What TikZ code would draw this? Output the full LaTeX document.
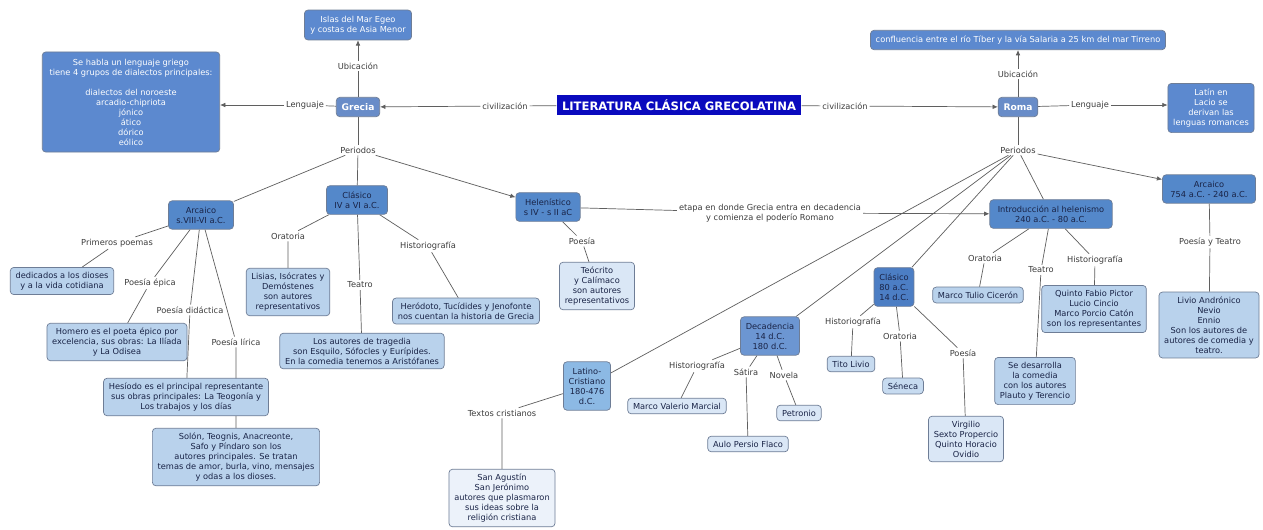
\documentclass[tikz,border=0pt]{standalone}
\usepackage{fontspec}
\setmainfont{DejaVu Sans}
\usetikzlibrary{arrows.meta}

\definecolor{topblue}{RGB}{92,137,207}
\definecolor{mainblue}{RGB}{104,140,200}
\definecolor{titleblue}{RGB}{10,10,190}
\definecolor{periodblue}{RGB}{84,136,202}
\definecolor{perioddark}{RGB}{76,126,196}
\definecolor{decadblue}{RGB}{108,150,210}
\definecolor{latinoblue}{RGB}{140,185,228}
\definecolor{leafblue}{RGB}{185,210,236}
\definecolor{paleblue}{RGB}{218,231,246}
\definecolor{palestblue}{RGB}{236,242,250}
\definecolor{boxline}{RGB}{110,125,150}
\definecolor{darktext}{RGB}{25,35,70}
\definecolor{linktext}{RGB}{60,60,60}
\definecolor{lineg}{RGB}{95,95,95}

\pgfdeclarelayer{paper}
\pgfdeclarelayer{bg}
\pgfsetlayers{paper,bg,main}

\tikzset{
  concept/.style={draw=boxline, rounded corners=2pt, align=center, inner xsep=3pt, inner ysep=2.6pt, font=\fontsize{4.7}{5.7}\selectfont},
  topbox/.style={concept, fill=topblue, text=white},
  mainbox/.style={concept, fill=mainblue, text=white, minimum height=11pt, font=\fontsize{5.2}{6}\selectfont\bfseries},
  titlebox/.style={fill=titleblue, text=white, inner xsep=3pt, inner ysep=2.5pt, font=\fontsize{6.6}{7.5}\selectfont\bfseries},
  period/.style={concept, fill=periodblue, text=darktext, inner xsep=4.5pt, inner ysep=3.4pt},
  leaf/.style={concept, fill=leafblue, text=darktext},
  pale/.style={concept, fill=paleblue, text=darktext},
  link/.style={inner sep=1pt, text=linktext, align=center, font=\fontsize{4.7}{5.7}\selectfont},
  conn/.style={draw=lineg, line width=0.4pt},
  arr/.style={conn, -{Latex[length=3pt,width=2.6pt]}}
}

\begin{document}
\begin{tikzpicture}[x=0.02cm,y=-0.02cm]
    \begin{pgfonlayer}{paper}
    \fill[white] (0,0) rectangle (1263,529);
    \end{pgfonlayer}
    \useasboundingbox (0,0) rectangle (1263,529);

    % Main concepts
    \node[titlebox] (lit) at (679,105) {LITERATURA CLÁSICA GRECOLATINA};
    \node[mainbox] (grecia) at (358,107) {Grecia};
    \node[mainbox] (roma) at (1018,107) {Roma};

    % Grecia: ubicacion and lenguaje
    \node[topbox, minimum width=61pt, minimum height=17pt] (islas) at (358,25) {Islas del Mar Egeo\\y costas de Asia Menor};
    \node[topbox, minimum width=101pt, minimum height=57pt] (griego) at (131,102) {Se habla un lenguaje griego\\tiene 4 grupos de dialectos principales:\\[5.7pt]dialectos del noroeste\\arcadio-chipriota\\jónico\\ático\\dórico\\eólico};

    % Roma: ubicacion and lenguaje
    \node[topbox, minimum height=11pt] (confl) at (1018,40) {confluencia entre el río Tíber y la vía Salaria a 25 km del mar Tirreno};
    \node[topbox, minimum width=49pt, minimum height=28pt] (latin) at (1211,108) {Latín en\\Lacio se\\derivan las\\lenguas romances};

    % Linking phrases, top level
    \node[link] (ubicg) at (358,66) {Ubicación};
    \node[link] (lengg) at (305,105) {Lenguaje};
    \node[link] (civg) at (505,106) {civilización};
    \node[link] (civr) at (845,106) {civilización};
    \node[link] (ubicr) at (1018,74) {Ubicación};
    \node[link] (lengr) at (1090,105) {Lenguaje};
    \node[link] (perg) at (358,150) {Periodos};
    \node[link] (perr) at (1018,150) {Periodos};

    % Periodos de Grecia
    \node[period] (arcg) at (201,215) {Arcaico\\s.VIII-VI a.C.};
    \node[period] (clasg) at (357,200) {Clásico\\IV a VI a.C.};
    \node[period] (helen) at (548,207) {Helenístico\\s IV - s II aC};

    % Arcaico (Grecia)
    \node[link] (primer) at (117,243) {Primeros poemas};
    \node[leaf] (dedic) at (62,281) {dedicados a los dioses\\y a la vida cotidiana};
    \node[link] (epica) at (150,283) {Poesía épica};
    \node[leaf] (homero) at (117,342) {Homero es el poeta épico por\\excelencia, sus obras: La Ilíada\\y La Odisea};
    \node[link] (didac) at (190,310) {Poesía didáctica};
    \node[leaf] (hesiodo) at (186,397) {Hesíodo es el principal representante\\sus obras principales: La Teogonía y\\Los trabajos y los días};
    \node[link] (lirica) at (236,342) {Poesía lírica};
    \node[leaf] (solon) at (236,457) {Solón, Teognis, Anacreonte,\\Safo y Píndaro son los\\autores principales. Se tratan\\temas de amor, burla, vino, mensajes\\y odas a los dioses.};

    % Clasico (Grecia)
    \node[link] (orat1) at (288,236) {Oratoria};
    \node[leaf] (lisias) at (288,292) {Lisias, Isócrates y\\Demóstenes\\son autores\\representativos};
    \node[link] (teat1) at (360,285) {Teatro};
    \node[leaf] (tragedia) at (362,351) {Los autores de tragedia\\son Esquilo, Sófocles y Eurípides.\\En la comedia tenemos a Aristófanes};
    \node[link] (hist1) at (428,246) {Historiografía};
    \node[leaf] (herod) at (466,311) {Heródoto, Tucídides y Jenofonte\\nos cuentan la historia de Grecia};

    % Helenistico
    \node[link] (poes1) at (582,241) {Poesía};
    \node[pale] (teocr) at (597,286) {Teócrito\\y Calímaco\\son autores\\representativos};
    \node[link] (etapa) at (770,213) {etapa en donde Grecia entra en decadencia\\y comienza el poderío Romano};

    % Periodos de Roma
    \node[period] (intro) at (1051,214) {Introducción al helenismo\\240 a.C. - 80 a.C.};
    \node[period] (arcr) at (1209,189) {Arcaico\\754 a.C. - 240 a.C.};
    \node[period, fill=perioddark, inner xsep=3pt] (clasr) at (894,287) {Clásico\\80 a.C.\\14 d.C.};
    \node[period, fill=decadblue, inner xsep=3pt] (decad) at (770,336) {Decadencia\\14 d.C.\\180 d.C.};
    \node[period, fill=latinoblue, inner xsep=3pt] (latcr) at (587,386) {Latino-\\Cristiano\\180-476\\d.C.};

    % Introduccion al helenismo
    \node[link] (orat2) at (985,258) {Oratoria};
    \node[leaf] (cicer) at (978,295) {Marco Tulio Cicerón};
    \node[link] (teat2) at (1041,270) {Teatro};
    \node[leaf] (plauto) at (1035,381) {Se desarrolla\\la comedia\\con los autores\\Plauto y Terencio};
    \node[link] (hist2) at (1095,260) {Historiografía};
    \node[leaf] (pictor) at (1094,309) {Quinto Fabio Pictor\\Lucio Cincio\\Marco Porcio Catón\\son los representantes};

    % Arcaico (Roma)
    \node[link] (poteat) at (1210,242) {Poesía y Teatro};
    \node[leaf] (livio) at (1209,325) {Livio Andrónico\\Nevio\\Ennio\\Son los autores de\\autores de comedia y\\teatro.};

    % Clasico (Roma)
    \node[link] (hist3) at (853,322) {Historiografía};
    \node[leaf, fill=leafblue!80!white] (titol) at (851,364) {Tito Livio};
    \node[link] (orat3) at (900,336) {Oratoria};
    \node[leaf, fill=leafblue!80!white] (seneca) at (903,386) {Séneca};
    \node[link] (poes3) at (963,353) {Poesía};
    \node[pale] (virg) at (966,439) {Virgilio\\Sexto Propercio\\Quinto Horacio\\Ovidio};

    % Decadencia
    \node[link] (hist4) at (697,366) {Historiografía};
    \node[pale] (marcial) at (677,406) {Marco Valerio Marcial};
    \node[link] (satira) at (746,372) {Sátira};
    \node[pale] (persio) at (748,444) {Aulo Persio Flaco};
    \node[link] (novela) at (784,375) {Novela};
    \node[pale] (petron) at (799,413) {Petronio};

    % Latino-Cristiano
    \node[link] (textos) at (502,413) {Textos cristianos};
    \node[pale, fill=palestblue] (agustin) at (502,498) {San Agustín\\San Jerónimo\\autores que plasmaron\\sus ideas sobre la\\religión cristiana};

    % Connectors
    \begin{pgfonlayer}{bg}
    \draw[conn] (grecia) -- (ubicg); \draw[arr] (ubicg) -- (islas);
    \draw[conn] (grecia) -- (lengg); \draw[arr] (lengg) -- (lengg -| griego.east);
    \draw[conn] (lit) -- (civg); \draw[arr] (civg) -- (grecia);
    \draw[conn] (lit) -- (civr); \draw[arr] (civr) -- (roma);
    \draw[conn] (roma) -- (ubicr); \draw[arr] (ubicr) -- (confl);
    \draw[conn] (roma) -- (lengr); \draw[arr] (lengr) -- (lengr -| latin.west);
    \draw[conn] (grecia) -- (perg);
    \draw[conn] (roma) -- (perr);

    \draw[conn] (perg) -- (arcg);
    \draw[conn] (perg) -- (clasg);
    \draw[arr] (perg) -- (helen);

    \draw[conn] (arcg) -- (primer) -- (dedic);
    \draw[conn] (arcg) -- (epica) -- (homero);
    \draw[conn] (arcg) -- (didac) -- (hesiodo);
    \draw[conn] (arcg) -- (lirica) -- (solon);

    \draw[conn] (clasg) -- (orat1) -- (lisias);
    \draw[conn] (clasg) -- (teat1) -- (tragedia);
    \draw[conn] (clasg) -- (hist1) -- (herod);

    \draw[conn] (helen) -- (poes1) -- (teocr);
    \draw[conn] (helen) -- (etapa); \draw[arr] (etapa) -- (intro);

    \draw[conn] (perr) -- (intro);
    \draw[arr] (perr) -- (arcr);
    \draw[conn] (perr) -- (clasr);
    \draw[conn] (perr) -- (decad);
    \draw[conn] (perr) -- (latcr);

    \draw[conn] (intro) -- (orat2) -- (cicer);
    \draw[conn] (intro) -- (teat2) -- (plauto);
    \draw[conn] (intro) -- (hist2) -- (pictor);
    \draw[conn] (arcr) -- (poteat) -- (livio);

    \draw[conn] (clasr) -- (hist3) -- (titol);
    \draw[conn] (clasr) -- (orat3) -- (seneca);
    \draw[conn] (clasr) -- (poes3) -- (virg);

    \draw[conn] (decad) -- (hist4) -- (marcial);
    \draw[conn] (decad) -- (satira) -- (persio);
    \draw[conn] (decad) -- (novela) -- (petron);

    \draw[conn] (latcr) -- (textos) -- (agustin);
    \end{pgfonlayer}
\end{tikzpicture}
\end{document}
